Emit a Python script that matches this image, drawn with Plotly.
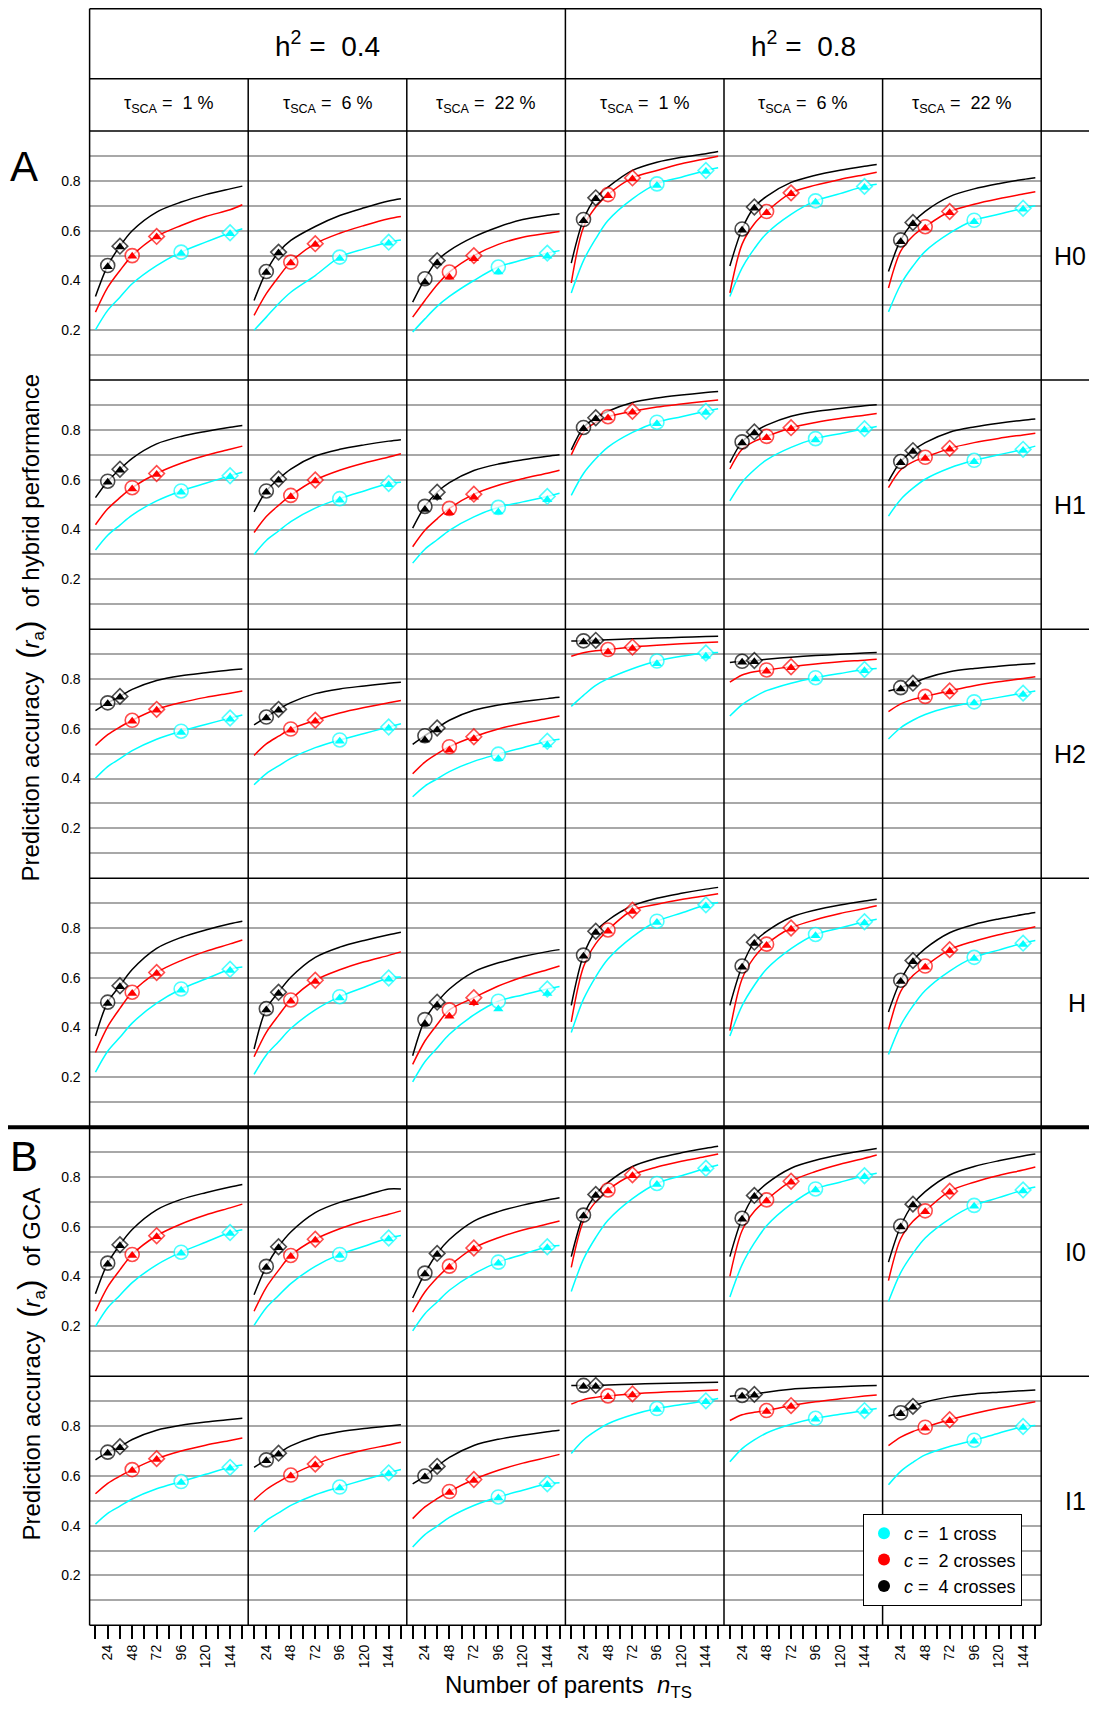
import plotly.graph_objects as go

# The page body has an 8 px margin, so the figure is sized to fit inside it.
PAGE_W, PAGE_H = 1097, 1713
OFF = 8
W, H = PAGE_W - 2 * OFF, PAGE_H - 2 * OFF

# ---------------- data ----------------
X_PTS = [12, 24, 36, 48, 72, 96, 120, 144, 156]
X_TICKVALS = [12, 24, 36, 48, 60, 72, 84, 96, 108, 120, 132, 144, 156]
X_TICKTEXT = ["", "24", "", "48", "", "72", "", "96", "", "120", "", "144", ""]
Y_TICKVALS = [0.1, 0.2, 0.3, 0.4, 0.5, 0.6, 0.7, 0.8, 0.9]
Y_TICKTEXT = ["", "0.2", "", "0.4", "", "0.6", "", "0.8", ""]
ROW_LABELS = ["H0", "H1", "H2", "H", "I0", "I1"]
HERIT_LABELS = ["0.4", "0.8"]
TAU_LABELS = ["1", "6", "22", "1", "6", "22"]
LEGEND_LABELS = ["1 cross", "2 crosses", "4 crosses"]
MARK_X = {"black": [24, 36], "red": [48, 72], "cyan": [96, 144]}

H0_black = [[0.336, 0.46, 0.538, 0.60, 0.675, 0.715, 0.745, 0.768, 0.779],
            [0.32, 0.436, 0.514, 0.561, 0.617, 0.661, 0.692, 0.719, 0.728],
            [0.313, 0.407, 0.48, 0.52, 0.575, 0.615, 0.645, 0.662, 0.668],
            [0.47, 0.645, 0.732, 0.775, 0.842, 0.875, 0.895, 0.909, 0.918],
            [0.458, 0.607, 0.695, 0.738, 0.794, 0.823, 0.843, 0.859, 0.866],
            [0.436, 0.563, 0.633, 0.678, 0.737, 0.768, 0.789, 0.806, 0.813]]
H0_red = [[0.273, 0.372, 0.44, 0.50, 0.577, 0.621, 0.657, 0.684, 0.704],
          [0.26, 0.347, 0.414, 0.474, 0.548, 0.59, 0.621, 0.648, 0.657],
          [0.253, 0.32, 0.383, 0.434, 0.50, 0.545, 0.574, 0.59, 0.597],
          [0.39, 0.614, 0.695, 0.745, 0.812, 0.842, 0.869, 0.889, 0.899],
          [0.35, 0.546, 0.628, 0.677, 0.752, 0.783, 0.806, 0.825, 0.835],
          [0.37, 0.518, 0.579, 0.616, 0.677, 0.706, 0.728, 0.747, 0.756]]
H0_cyan = [[0.202, 0.28, 0.333, 0.387, 0.46, 0.514, 0.554, 0.592, 0.608],
           [0.20, 0.253, 0.307, 0.353, 0.42, 0.494, 0.527, 0.554, 0.563],
           [0.193, 0.246, 0.296, 0.336, 0.40, 0.454, 0.483, 0.51, 0.52],
           [0.35, 0.48, 0.568, 0.641, 0.728, 0.788, 0.815, 0.842, 0.853],
           [0.336, 0.451, 0.528, 0.589, 0.666, 0.72, 0.749, 0.778, 0.787],
           [0.274, 0.384, 0.458, 0.517, 0.59, 0.642, 0.666, 0.69, 0.70]]
H0_tri_black = [[0.455, 0.535], [0.432, 0.51], [0.393, 0.47], [0.64, 0.728], [0.602, 0.69], [0.556, 0.628]]
H0_tri_red = [[0.497, 0.575], [0.47, 0.545], [0.413, 0.487], [0.74, 0.808], [0.672, 0.748], [0.61, 0.672]]
H0_tri_cyan = [[0.508, 0.588], [0.488, 0.55], [0.434, 0.497], [0.782, 0.838], [0.714, 0.774], [0.636, 0.686]]

H1_black = [[0.528, 0.594, 0.642, 0.686, 0.744, 0.774, 0.794, 0.811, 0.818],
            [0.471, 0.555, 0.603, 0.643, 0.695, 0.722, 0.74, 0.755, 0.761],
            [0.406, 0.493, 0.55, 0.588, 0.637, 0.663, 0.68, 0.694, 0.70],
            [0.72, 0.81, 0.849, 0.875, 0.91, 0.928, 0.94, 0.95, 0.954],
            [0.669, 0.752, 0.792, 0.819, 0.855, 0.874, 0.886, 0.897, 0.901],
            [0.594, 0.673, 0.717, 0.749, 0.791, 0.812, 0.827, 0.839, 0.844]]
H1_red = [[0.419, 0.483, 0.528, 0.568, 0.625, 0.666, 0.697, 0.722, 0.735],
          [0.388, 0.452, 0.497, 0.537, 0.599, 0.638, 0.667, 0.691, 0.704],
          [0.331, 0.397, 0.443, 0.485, 0.542, 0.578, 0.604, 0.626, 0.638],
          [0.70, 0.792, 0.83, 0.853, 0.875, 0.892, 0.904, 0.915, 0.92],
          [0.643, 0.722, 0.754, 0.774, 0.809, 0.83, 0.846, 0.859, 0.866],
          [0.568, 0.64, 0.672, 0.69, 0.726, 0.749, 0.766, 0.78, 0.787]]
H1_cyan = [[0.318, 0.377, 0.418, 0.458, 0.515, 0.555, 0.586, 0.616, 0.63],
           [0.30, 0.356, 0.394, 0.432, 0.486, 0.524, 0.555, 0.585, 0.59],
           [0.265, 0.321, 0.359, 0.397, 0.451, 0.489, 0.511, 0.533, 0.546],
           [0.537, 0.625, 0.684, 0.731, 0.79, 0.831, 0.853, 0.875, 0.885],
           [0.515, 0.59, 0.64, 0.68, 0.73, 0.765, 0.785, 0.805, 0.814],
           [0.454, 0.521, 0.566, 0.602, 0.647, 0.678, 0.70, 0.722, 0.735]]
H1_tri_black = [[0.59, 0.638], [0.55, 0.598], [0.48, 0.53], [0.805, 0.845], [0.747, 0.788], [0.668, 0.713]]
H1_tri_red = [[0.563, 0.621], [0.532, 0.595], [0.467, 0.53], [0.848, 0.871], [0.769, 0.805], [0.685, 0.722]]
H1_tri_cyan = [[0.55, 0.612], [0.518, 0.58], [0.47, 0.52], [0.825, 0.87], [0.76, 0.8], [0.672, 0.717]]

H2_black = [[0.673, 0.704, 0.73, 0.758, 0.794, 0.813, 0.825, 0.836, 0.84],
            [0.616, 0.647, 0.678, 0.705, 0.741, 0.76, 0.772, 0.783, 0.787],
            [0.537, 0.572, 0.603, 0.634, 0.674, 0.695, 0.709, 0.721, 0.726],
            [0.952, 0.953, 0.955, 0.957, 0.961, 0.964, 0.967, 0.97, 0.971],
            [0.866, 0.871, 0.874, 0.879, 0.887, 0.894, 0.899, 0.904, 0.906],
            [0.752, 0.765, 0.783, 0.803, 0.829, 0.842, 0.851, 0.859, 0.862]]
H2_red = [[0.533, 0.576, 0.607, 0.634, 0.678, 0.705, 0.726, 0.743, 0.752],
          [0.493, 0.539, 0.57, 0.599, 0.634, 0.663, 0.685, 0.704, 0.713],
          [0.419, 0.466, 0.499, 0.528, 0.568, 0.599, 0.622, 0.641, 0.651],
          [0.891, 0.905, 0.913, 0.918, 0.928, 0.935, 0.941, 0.946, 0.948],
          [0.787, 0.816, 0.829, 0.836, 0.849, 0.86, 0.869, 0.875, 0.879],
          [0.669, 0.70, 0.718, 0.73, 0.752, 0.773, 0.789, 0.802, 0.809]]
H2_cyan = [[0.401, 0.448, 0.48, 0.512, 0.558, 0.59, 0.617, 0.643, 0.655],
           [0.375, 0.42, 0.451, 0.481, 0.524, 0.555, 0.581, 0.607, 0.62],
           [0.327, 0.37, 0.399, 0.428, 0.469, 0.498, 0.524, 0.55, 0.558],
           [0.69, 0.734, 0.774, 0.801, 0.841, 0.872, 0.891, 0.904, 0.906],
           [0.651, 0.697, 0.728, 0.753, 0.783, 0.805, 0.822, 0.838, 0.842],
           [0.559, 0.604, 0.634, 0.657, 0.687, 0.708, 0.726, 0.743, 0.752]]
H2_tri_black = [[0.70, 0.726], [0.643, 0.674], [0.555, 0.595], [0.948, 0.95], [0.867, 0.869], [0.76, 0.779]]
H2_tri_red = [[0.63, 0.674], [0.594, 0.63], [0.515, 0.56], [0.908, 0.922], [0.831, 0.845], [0.725, 0.748]]
H2_tri_cyan = [[0.585, 0.638], [0.55, 0.602], [0.48, 0.535], [0.861, 0.891], [0.80, 0.833], [0.703, 0.738]]

H_black = [[0.366, 0.502, 0.568, 0.633, 0.718, 0.762, 0.792, 0.817, 0.827],
           [0.314, 0.476, 0.542, 0.602, 0.682, 0.723, 0.75, 0.773, 0.783],
           [0.287, 0.432, 0.502, 0.555, 0.624, 0.66, 0.685, 0.705, 0.713],
           [0.489, 0.691, 0.787, 0.831, 0.889, 0.919, 0.939, 0.956, 0.963],
           [0.489, 0.647, 0.743, 0.786, 0.843, 0.872, 0.892, 0.908, 0.915],
           [0.463, 0.59, 0.669, 0.717, 0.781, 0.814, 0.836, 0.854, 0.862]]
H_red = [[0.30, 0.404, 0.477, 0.542, 0.621, 0.669, 0.706, 0.736, 0.752],
         [0.283, 0.381, 0.449, 0.511, 0.59, 0.632, 0.664, 0.69, 0.704],
         [0.252, 0.346, 0.412, 0.471, 0.52, 0.567, 0.603, 0.632, 0.647],
         [0.423, 0.644, 0.737, 0.792, 0.871, 0.895, 0.914, 0.929, 0.937],
         [0.388, 0.596, 0.683, 0.735, 0.80, 0.833, 0.858, 0.878, 0.889],
         [0.392, 0.545, 0.609, 0.647, 0.713, 0.747, 0.773, 0.794, 0.805]]
H_cyan = [[0.221, 0.305, 0.361, 0.418, 0.498, 0.555, 0.595, 0.634, 0.643],
          [0.212, 0.29, 0.343, 0.396, 0.471, 0.524, 0.562, 0.599, 0.603],
          [0.182, 0.263, 0.318, 0.373, 0.451, 0.506, 0.531, 0.555, 0.565],
          [0.38, 0.514, 0.604, 0.675, 0.764, 0.827, 0.86, 0.893, 0.902],
          [0.366, 0.488, 0.57, 0.635, 0.717, 0.774, 0.80, 0.825, 0.835],
          [0.292, 0.409, 0.487, 0.549, 0.627, 0.682, 0.711, 0.739, 0.75]]
H_tri_black = [[0.497, 0.564], [0.471, 0.537], [0.415, 0.49], [0.686, 0.782], [0.642, 0.738], [0.585, 0.664]]
H_tri_red = [[0.537, 0.617], [0.506, 0.585], [0.445, 0.50], [0.787, 0.866], [0.73, 0.795], [0.642, 0.708]]
H_tri_cyan = [[0.55, 0.629], [0.519, 0.594], [0.475, 0.537], [0.822, 0.888], [0.769, 0.82], [0.677, 0.734]]

I0_black = [[0.331, 0.454, 0.528, 0.589, 0.668, 0.71, 0.737, 0.76, 0.77],
            [0.327, 0.441, 0.52, 0.579, 0.657, 0.698, 0.725, 0.752, 0.752],
            [0.314, 0.414, 0.493, 0.549, 0.623, 0.661, 0.687, 0.708, 0.717],
            [0.48, 0.647, 0.73, 0.778, 0.842, 0.875, 0.897, 0.915, 0.923],
            [0.48, 0.634, 0.726, 0.773, 0.835, 0.867, 0.889, 0.906, 0.914],
            [0.458, 0.603, 0.691, 0.741, 0.808, 0.842, 0.865, 0.884, 0.892]]
I0_red = [[0.261, 0.359, 0.427, 0.489, 0.564, 0.611, 0.647, 0.676, 0.691],
          [0.261, 0.357, 0.425, 0.485, 0.55, 0.592, 0.624, 0.65, 0.664],
          [0.257, 0.338, 0.395, 0.442, 0.515, 0.556, 0.587, 0.611, 0.623],
          [0.437, 0.624, 0.701, 0.748, 0.809, 0.84, 0.863, 0.882, 0.892],
          [0.401, 0.585, 0.662, 0.708, 0.783, 0.822, 0.851, 0.875, 0.888],
          [0.384, 0.552, 0.622, 0.664, 0.743, 0.779, 0.806, 0.828, 0.84]]
I0_cyan = [[0.20, 0.275, 0.325, 0.376, 0.447, 0.498, 0.538, 0.577, 0.588],
           [0.204, 0.275, 0.324, 0.372, 0.441, 0.489, 0.522, 0.555, 0.565],
           [0.182, 0.251, 0.298, 0.345, 0.411, 0.458, 0.489, 0.52, 0.525],
           [0.34, 0.47, 0.557, 0.626, 0.713, 0.774, 0.805, 0.835, 0.848],
           [0.318, 0.448, 0.535, 0.604, 0.691, 0.752, 0.779, 0.805, 0.815],
           [0.30, 0.416, 0.493, 0.555, 0.632, 0.686, 0.717, 0.748, 0.76]]
I0_tri_black = [[0.45, 0.524], [0.437, 0.516], [0.41, 0.489], [0.643, 0.726], [0.63, 0.722], [0.599, 0.687]]
I0_tri_red = [[0.485, 0.56], [0.481, 0.546], [0.438, 0.511], [0.744, 0.805], [0.704, 0.779], [0.66, 0.739]]
I0_tri_cyan = [[0.494, 0.573], [0.485, 0.551], [0.454, 0.516], [0.77, 0.831], [0.748, 0.801], [0.682, 0.744]]

I1_black = [[0.664, 0.695, 0.717, 0.746, 0.783, 0.803, 0.816, 0.826, 0.831],
            [0.634, 0.664, 0.691, 0.72, 0.757, 0.777, 0.79, 0.80, 0.805],
            [0.568, 0.599, 0.638, 0.674, 0.722, 0.747, 0.763, 0.777, 0.783],
            [0.963, 0.963, 0.963, 0.965, 0.968, 0.971, 0.973, 0.975, 0.976],
            [0.919, 0.923, 0.927, 0.936, 0.948, 0.954, 0.958, 0.962, 0.963],
            [0.84, 0.853, 0.879, 0.896, 0.917, 0.929, 0.936, 0.942, 0.945]]
I1_red = [[0.528, 0.57, 0.599, 0.625, 0.669, 0.70, 0.723, 0.742, 0.752],
          [0.502, 0.545, 0.576, 0.603, 0.647, 0.68, 0.704, 0.724, 0.735],
          [0.428, 0.475, 0.508, 0.537, 0.585, 0.622, 0.651, 0.674, 0.686],
          [0.888, 0.906, 0.915, 0.921, 0.929, 0.935, 0.939, 0.943, 0.945],
          [0.822, 0.845, 0.855, 0.862, 0.882, 0.897, 0.909, 0.92, 0.925],
          [0.721, 0.755, 0.778, 0.795, 0.825, 0.85, 0.871, 0.888, 0.897]]
I1_cyan = [[0.406, 0.449, 0.478, 0.507, 0.548, 0.577, 0.606, 0.634, 0.643],
           [0.375, 0.42, 0.451, 0.481, 0.524, 0.555, 0.584, 0.612, 0.625],
           [0.314, 0.364, 0.398, 0.433, 0.481, 0.515, 0.542, 0.568, 0.572],
           [0.69, 0.744, 0.78, 0.809, 0.845, 0.87, 0.886, 0.901, 0.91],
           [0.656, 0.709, 0.744, 0.772, 0.807, 0.831, 0.847, 0.862, 0.87],
           [0.564, 0.618, 0.654, 0.684, 0.718, 0.743, 0.771, 0.798, 0.802]]
I1_tri_black = [[0.691, 0.713], [0.66, 0.687], [0.595, 0.634], [0.959, 0.959], [0.919, 0.923], [0.849, 0.875]]
I1_tri_red = [[0.621, 0.665], [0.599, 0.643], [0.533, 0.581], [0.917, 0.925], [0.858, 0.878], [0.791, 0.821]]
I1_tri_cyan = [[0.573, 0.63], [0.551, 0.608], [0.511, 0.564], [0.866, 0.897], [0.827, 0.858], [0.739, 0.794]]

ROWS = [
    {"cyan": H0_cyan, "red": H0_red, "black": H0_black,
     "tri": {"cyan": H0_tri_cyan, "red": H0_tri_red, "black": H0_tri_black}},
    {"cyan": H1_cyan, "red": H1_red, "black": H1_black,
     "tri": {"cyan": H1_tri_cyan, "red": H1_tri_red, "black": H1_tri_black}},
    {"cyan": H2_cyan, "red": H2_red, "black": H2_black,
     "tri": {"cyan": H2_tri_cyan, "red": H2_tri_red, "black": H2_tri_black}},
    {"cyan": H_cyan, "red": H_red, "black": H_black,
     "tri": {"cyan": H_tri_cyan, "red": H_tri_red, "black": H_tri_black}},
    {"cyan": I0_cyan, "red": I0_red, "black": I0_black,
     "tri": {"cyan": I0_tri_cyan, "red": I0_tri_red, "black": I0_tri_black}},
    {"cyan": I1_cyan, "red": I1_red, "black": I1_black,
     "tri": {"cyan": I1_tri_cyan, "red": I1_tri_red, "black": I1_tri_black}},
]

# ---------------- styling / geometry (page pixels) ----------------
COLORS = {"cyan": "#00FFFF", "red": "#FF0000", "black": "#000000"}
ORDER = ["cyan", "red", "black"]
FONT = "Liberation Sans, Arial, Helvetica, sans-serif"

COL_X = [89.6 + i * 158.6 for i in range(7)]
ROW_TOP = 131.1
ROW_H = 249.02
ROW_Y = [ROW_TOP + i * ROW_H for i in range(7)]
HEAD_TOP = 8.7
HEAD_MID = 78.7
XR = [6.24, 161.76]


def px(x):
    return (x - OFF) / W


def py(y):
    return 1 - (y - OFF) / H


def sfx(k):
    return "" if k == 1 else str(k)


fig = go.Figure()
layout = dict(
    width=W, height=H, margin=dict(l=0, r=0, t=0, b=0),
    paper_bgcolor="white", plot_bgcolor="white",
    font=dict(family=FONT, color="black"),
    showlegend=True,
)

for r in range(6):
    for c in range(6):
        k = r * 6 + c + 1
        xa = dict(domain=[px(COL_X[c]), px(COL_X[c + 1])], range=XR,
                  anchor="y" + sfx(k), showgrid=False, zeroline=False,
                  showline=False, fixedrange=True)
        if r == 5:
            xa.update(tickmode="array", tickvals=X_TICKVALS, ticktext=X_TICKTEXT,
                      ticks="outside", ticklen=13, tickwidth=1.5, tickcolor="black",
                      tickangle=-90, tickfont=dict(size=14, family=FONT))
        else:
            xa.update(showticklabels=False, ticks="")
        ya = dict(domain=[py(ROW_Y[r + 1]), py(ROW_Y[r])], range=[0, 1],
                  anchor="x" + sfx(k), showgrid=True, gridcolor="#a8a8a8",
                  gridwidth=1.5, zeroline=False, showline=False, ticks="",
                  tickmode="array", tickvals=Y_TICKVALS, ticktext=Y_TICKTEXT,
                  showticklabels=(c == 0), tickfont=dict(size=14, family=FONT),
                  ticklabelstandoff=8, fixedrange=True)
        layout["xaxis" + sfx(k)] = xa
        layout["yaxis" + sfx(k)] = ya

        row = ROWS[r]
        xref_, yref_ = "x" + sfx(k), "y" + sfx(k)
        for col in ORDER:
            fig.add_trace(go.Scatter(
                x=X_PTS, y=row[col][c], mode="lines",
                line=dict(color=COLORS[col], width=1.5, shape="spline", smoothing=0.9),
                xaxis=xref_, yaxis=yref_, showlegend=False, hoverinfo="skip"))
        for col in ORDER:
            mx = MARK_X[col]
            my = [row[col][c][X_PTS.index(v)] for v in mx]
            fig.add_trace(go.Scatter(
                x=mx, y=my, mode="markers",
                marker=dict(symbol=["circle", "diamond"], size=[14, 12], color="white",
                            line=dict(color=COLORS[col], width=1.6)),
                xaxis=xref_, yaxis=yref_, showlegend=False, hoverinfo="skip"))
            fig.add_trace(go.Scatter(
                x=mx, y=row["tri"][col][c], mode="markers",
                marker=dict(symbol="triangle-up", size=9, color=COLORS[col],
                            line=dict(width=0)),
                xaxis=xref_, yaxis=yref_, showlegend=False, hoverinfo="skip"))

# legend entries
for col, lab in zip(ORDER, LEGEND_LABELS):
    fig.add_trace(go.Scatter(
        x=[None], y=[None], mode="markers", name="<i>c</i> =  " + lab,
        marker=dict(symbol="circle", size=10, color=COLORS[col]),
        showlegend=True))

layout["legend"] = dict(x=px(863), y=py(1514), xanchor="left", yanchor="top",
                        bgcolor="white", bordercolor="black", borderwidth=1,
                        font=dict(size=18, family=FONT), tracegroupgap=0,
                        itemsizing="constant")

# ---------------- frame lines ----------------
shapes = []


def hline(y, x0, x1, w=1.5):
    shapes.append(dict(type="line", xref="paper", yref="paper", x0=px(x0), x1=px(x1),
                       y0=py(y), y1=py(y), line=dict(color="black", width=w)))


def vline(x, y0, y1, w=1.5):
    shapes.append(dict(type="line", xref="paper", yref="paper", x0=px(x), x1=px(x),
                       y0=py(y0), y1=py(y1), line=dict(color="black", width=w)))


hline(HEAD_TOP, COL_X[0], COL_X[6])
hline(HEAD_MID, COL_X[0], COL_X[6])
for i in [0, 1, 2, 3, 5]:
    hline(ROW_Y[i], COL_X[0], PAGE_W - OFF)
hline(ROW_Y[4], OFF, PAGE_W - OFF, w=4)
hline(ROW_Y[6], COL_X[0], COL_X[6])
for i in [0, 3, 6]:
    vline(COL_X[i], HEAD_TOP, ROW_Y[6])
for i in [1, 2, 4, 5]:
    vline(COL_X[i], HEAD_MID, ROW_Y[6])
layout["shapes"] = shapes

# ---------------- text ----------------
ann = []


def text(x, y, s, size, angle=0, xanchor="center", yanchor="middle"):
    ann.append(dict(x=px(x), y=py(y), xref="paper", yref="paper", text=s,
                    showarrow=False, xanchor=xanchor, yanchor=yanchor,
                    textangle=angle, font=dict(size=size, family=FONT, color="black")))


for g in range(2):
    text((COL_X[3 * g] + COL_X[3 * g + 3]) / 2, (HEAD_TOP + HEAD_MID) / 2,
         "h<sup>2</sup> = \u00a0" + HERIT_LABELS[g], 28)
for c in range(6):
    text((COL_X[c] + COL_X[c + 1]) / 2, (HEAD_MID + ROW_TOP) / 2,
         "\u03c4<sub>SCA</sub> = \u00a0" + TAU_LABELS[c] + " %", 18)
for r in range(6):
    text(PAGE_W - OFF - 1, (ROW_Y[r] + ROW_Y[r + 1]) / 2, ROW_LABELS[r], 25,
         xanchor="right")

text(24, 166, "A", 42)
text(OFF, 1156, "B", 42, xanchor="left")
big = "<span style='font-size:31px'>(</span>"
big2 = "<span style='font-size:31px'>)</span>"
text(OFF + 1, 628, "Prediction accuracy \u00a0" + big + "<i>r</i><sub>a</sub>" + big2 +
     "\u00a0 of hybrid performance", 24, angle=-90, xanchor="left")
text(OFF + 1, 1364, "Prediction accuracy \u00a0" + big + "<i>r</i><sub>a</sub>" + big2 +
     "\u00a0 of GCA", 24, angle=-90, xanchor="left")
text(568, PAGE_H - OFF - 1, "Number of parents \u00a0<i>n</i><sub>TS</sub>", 24,
     yanchor="bottom")
layout["annotations"] = ann

fig.update_layout(**layout)
fig.write_html("out.html")
